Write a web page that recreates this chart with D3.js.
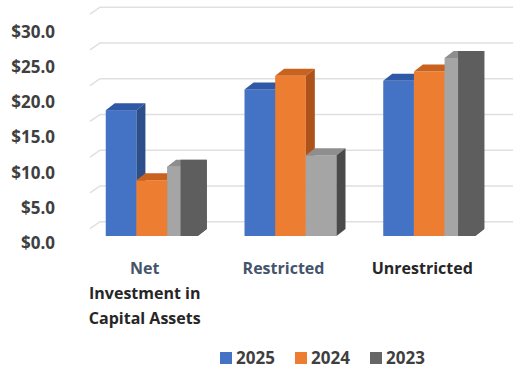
<!DOCTYPE html>
<html>
<head>
<meta charset="utf-8">
<script src="https://cdn.jsdelivr.net/npm/d3@7"></script>
<style>
  html, body { margin: 0; padding: 0; background: #fff; }
  svg { display: block; font-family: 'Open Sans', sans-serif; }
</style>
</head>
<body>
<svg id="chart"></svg>
<script>
const categories = ['Net Investment in Capital Assets', 'Restricted', 'Unrestricted'];
const categoryLines = [['Net', 'Investment in', 'Capital Assets'], ['Restricted'], ['Unrestricted']];
const seriesNames = ['2025', '2024', '2023'];
const values2025 = [17.6, 20.5, 21.7];
const values2024 = [7.8, 22.4, 23.0];
const values2023 = [9.7, 11.3, 24.9];
const yTicks = [0, 5, 10, 15, 20, 25, 30];
const yTickLabels = ['$0.0', '$5.0', '$10.0', '$15.0', '$20.0', '$25.0', '$30.0'];

const width = 513, height = 370;
const depth = { dx: 9, dy: -7 };
const wall = { dx: 10, dy: -14.3 };

const colors = {
  '2025': { front: '#4472c4', top: '#2f58a6', side: '#2c4f8c' },
  '2024': { front: '#ed7d31', top: '#c9621d', side: '#ad5219' },
  '2023': { front: '#a5a5a5', top: '#8e8e8e', side: '#4a4a4a' }
};
const legendColors = { '2025': '#4472c4', '2024': '#ed7d31', '2023': '#666666' };
const darkBlock = '#5e5e5e';
// categories where the 2023 bar shows the wide dark panel
const wideSideCats = ['Net Investment in Capital Assets', 'Unrestricted'];

const seriesValues = { '2025': values2025, '2024': values2024, '2023': values2023 };

let svg = d3.select('#chart')
  .attr('width', width)
  .attr('height', height);

let x = d3.scaleBand()
  .domain(categories)
  .range([78, 503])
  .paddingInner(0.337)
  .paddingOuter(0.2);

let xs = d3.scaleBand()
  .domain(seriesNames)
  .range([0, x.bandwidth()]);

let y = d3.scaleLinear().domain([0, 30]).range([236, 21.5]);
let yLabel = d3.scaleLinear().domain([0, 30]).range([242.7, 32.3]);

// back wall gridlines
let grid = svg.append('g');
yTicks.forEach(t => {
  let yb = y(t) + wall.dy;
  grid.append('path')
    .attr('d', `M${90},${yb + 7} L${100},${yb} L${width},${yb}`)
    .attr('fill', 'none')
    .attr('stroke', '#e0e0e0')
    .attr('stroke-width', 1.6);
});

// y axis labels
svg.append('g').selectAll('text')
  .data(yTicks)
  .join('text')
  .attr('x', 55)
  .attr('y', d => yLabel(d))
  .attr('dy', '0.35em')
  .attr('text-anchor', 'end')
  .attr('font-size', 17)
  .attr('font-weight', 700)
  .attr('fill', '#3f3f3f')
  .text((d, i) => yTickLabels[i]);

function box(g, x0, w, v, c) {
  let y0 = y(0), y1 = y(v);
  g.append('rect')
    .attr('x', x0).attr('y', y1)
    .attr('width', w).attr('height', y0 - y1)
    .attr('fill', c.front);
  g.append('path')
    .attr('d', `M${x0},${y1} L${x0 + w},${y1} L${x0 + w + depth.dx},${y1 + depth.dy} L${x0 + depth.dx},${y1 + depth.dy} Z`)
    .attr('fill', c.top);
  g.append('path')
    .attr('d', `M${x0 + w},${y1} L${x0 + w + depth.dx},${y1 + depth.dy} L${x0 + w + depth.dx},${y0 + depth.dy} L${x0 + w},${y0} Z`)
    .attr('fill', c.side);
}

let bars = svg.append('g');
categories.forEach((cat, ci) => {
  seriesNames.forEach(s => {
    let v = seriesValues[s][ci];
    let x0 = x(cat) + xs(s);
    let w = xs.bandwidth();
    box(bars, x0, w, v, colors[s]);
    if (s === '2023' && wideSideCats.includes(cat)) {
      let xl = x0 + w * 0.44;
      let yt = y(v) + depth.dy;
      let y0 = y(0);
      bars.append('path')
        .attr('d', `M${xl},${yt} L${x0 + w + depth.dx},${yt} L${x0 + w + depth.dx},${y0 + depth.dy} L${x0 + w},${y0} L${xl},${y0} Z`)
        .attr('fill', darkBlock);
    }
  });
});

// category labels
let lineColors = { 'Net': '#44546a', 'Restricted': '#44546a' };
let cats = svg.append('g');
categories.forEach((cat, ci) => {
  categoryLines[ci].forEach((line, li) => {
    cats.append('text')
      .attr('x', x(cat) + x.bandwidth() / 2 - 7)
      .attr('y', 268.3 + li * 25)
      .attr('dy', '0.35em')
      .attr('text-anchor', 'middle')
      .attr('font-size', 16)
      .attr('font-weight', 700)
      .attr('fill', lineColors[line] || '#262626')
      .text(line);
  });
});

// legend
let lx = d3.scalePoint().domain(seriesNames).range([220, 370]);
let legend = svg.append('g');
seriesNames.forEach(s => {
  legend.append('rect')
    .attr('x', lx(s)).attr('y', 352)
    .attr('width', 12).attr('height', 12)
    .attr('fill', legendColors[s]);
  legend.append('text')
    .attr('x', lx(s) + 16)
    .attr('y', 358.3)
    .attr('dy', '0.35em')
    .attr('font-size', 17)
    .attr('font-weight', 700)
    .attr('fill', '#3f3f3f')
    .text(s);
});
</script>
</body>
</html>
